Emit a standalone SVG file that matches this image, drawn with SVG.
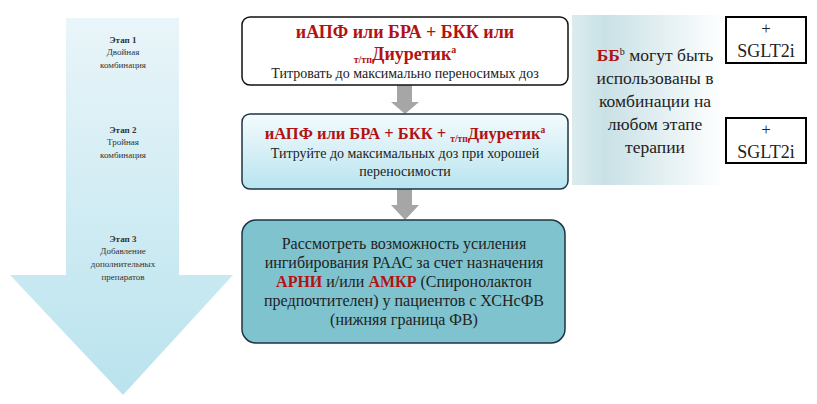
<svg xmlns="http://www.w3.org/2000/svg" width="817" height="404" viewBox="0 0 817 404">
<defs>
<linearGradient id="bigArrow" x1="0" y1="0" x2="0" y2="1">
<stop offset="0" stop-color="#e9f5f9"/>
<stop offset="1" stop-color="#b9e3ee"/>
</linearGradient>
<linearGradient id="box2" x1="0" y1="0" x2="0" y2="1">
<stop offset="0" stop-color="#f4fbfd"/>
<stop offset="1" stop-color="#b8e4ef"/>
</linearGradient>
<linearGradient id="panel" x1="0" y1="0" x2="1" y2="0">
<stop offset="0" stop-color="#dcecee"/>
<stop offset="0.22" stop-color="#c9e1e6"/>
<stop offset="1" stop-color="#ffffff"/>
</linearGradient>
</defs>
<rect width="817" height="404" fill="#ffffff"/>

<g id="stage-arrow">
<path d="M66,18 H179 V275 H233 L123,395 L10,275 H66 Z" fill="url(#bigArrow)"/>
<g font-size="9" fill="#333" text-anchor="middle">
<text style="font-family:'Liberation Serif',serif" x="123" y="43" font-weight="bold">Этап 1</text>
<text style="font-family:'Liberation Serif',serif" x="123" y="55">Двойная</text>
<text style="font-family:'Liberation Serif',serif" x="123" y="68">комбинация</text>
<text style="font-family:'Liberation Serif',serif" x="123" y="133" font-weight="bold">Этап 2</text>
<text style="font-family:'Liberation Serif',serif" x="123" y="145">Тройная</text>
<text style="font-family:'Liberation Serif',serif" x="123" y="158">комбинация</text>
<text style="font-family:'Liberation Serif',serif" x="123" y="242" font-weight="bold">Этап 3</text>
<text style="font-family:'Liberation Serif',serif" x="123" y="254">Добавление</text>
<text style="font-family:'Liberation Serif',serif" x="123" y="267">дополнительных</text>
<text style="font-family:'Liberation Serif',serif" x="123" y="280">препаратов</text>
</g>
</g>

<g id="connectors" fill="#a6a6a6">
<path d="M397,85 H412 V102 H419 L405,114 L391,102 H397 Z"/>
<path d="M397,189 H412 V205 H419 L405,220 L391,205 H397 Z"/>
</g>

<g id="box1">
<rect x="242" y="17" width="326" height="68" rx="8" fill="#fff" stroke="#111" stroke-width="1.5"/>
<text style="font-family:'Liberation Serif',serif" fill="#b31212" font-weight="bold" text-anchor="middle" x="405" y="38" font-size="18">иАПФ или БРА + БКК или</text>
<text style="font-family:'Liberation Serif',serif" fill="#b31212" font-weight="bold" text-anchor="middle" x="405" y="60"><tspan font-size="10" dy="3">т/тп</tspan><tspan font-size="18" dy="-3">Диуретик</tspan><tspan font-size="10" dy="-7">a</tspan></text>
<text style="font-family:'Liberation Serif',serif" fill="#222" text-anchor="middle" x="405" y="78" font-size="14">Титровать до максимально переносимых доз</text>
</g>

<g id="box2">
<rect x="242" y="114" width="326" height="75" rx="8" fill="url(#box2)" stroke="#1e3444" stroke-width="1.5"/>
<text style="font-family:'Liberation Serif',serif" fill="#b31212" font-weight="bold" text-anchor="middle" x="405" y="139" font-size="16.5">иАПФ или БРА + БКК + <tspan font-size="9.5" dy="3">т/тп</tspan><tspan dy="-3">Диуретик</tspan><tspan font-size="9.5" dy="-6">a</tspan></text>
<text style="font-family:'Liberation Serif',serif" fill="#222" text-anchor="middle" x="405" y="158" font-size="14">Титруйте до максимальных доз при хорошей</text>
<text style="font-family:'Liberation Serif',serif" fill="#222" text-anchor="middle" x="405" y="176" font-size="14">переносимости</text>
</g>

<g id="box3">
<rect x="242" y="220" width="323" height="123" rx="14" fill="#7fc3cf" stroke="#1e3444" stroke-width="1.5"/>
<g fill="#222" text-anchor="middle" font-size="16">
<text style="font-family:'Liberation Serif',serif" x="404" y="249">Рассмотреть возможность усиления</text>
<text style="font-family:'Liberation Serif',serif" x="404" y="268">ингибирования РААС за счет назначения</text>
<text style="font-family:'Liberation Serif',serif" x="404" y="287"><tspan fill="#b31212" font-weight="bold">АРНИ</tspan> и/или <tspan fill="#b31212" font-weight="bold">АМКР</tspan> (Спиронолактон</text>
<text style="font-family:'Liberation Serif',serif" x="404" y="306">предпочтителен) у пациентов с ХСНсФВ</text>
<text style="font-family:'Liberation Serif',serif" x="404" y="325">(нижняя граница ФВ)</text>
</g>
</g>

<g id="bb-panel">
<rect x="572" y="15" width="152" height="170" fill="url(#panel)"/>
<g fill="#222" text-anchor="middle" font-size="17.5">
<text style="font-family:'Liberation Serif',serif" x="655" y="61"><tspan fill="#b31212" font-weight="bold">ББ</tspan><tspan font-size="10" dy="-6">b</tspan><tspan dy="6"> могут быть</tspan></text>
<text style="font-family:'Liberation Serif',serif" x="655" y="84">использованы в</text>
<text style="font-family:'Liberation Serif',serif" x="655" y="107">комбинации на</text>
<text style="font-family:'Liberation Serif',serif" x="655" y="130">любом этапе</text>
<text style="font-family:'Liberation Serif',serif" x="655" y="153">терапии</text>
</g>
</g>

<g id="sglt2-1">
<rect x="726" y="17" width="80" height="46" fill="#fff" stroke="#000" stroke-width="2"/>
<text style="font-family:'Liberation Serif',serif" fill="#222" text-anchor="middle" x="766" y="34" font-size="17">+</text>
<text style="font-family:'Liberation Serif',serif" fill="#222" text-anchor="middle" x="766" y="57" font-size="18">SGLT2i</text>
</g>

<g id="sglt2-2">
<rect x="726" y="118" width="80" height="45" fill="#fff" stroke="#000" stroke-width="2"/>
<text style="font-family:'Liberation Serif',serif" fill="#222" text-anchor="middle" x="766" y="135" font-size="17">+</text>
<text style="font-family:'Liberation Serif',serif" fill="#222" text-anchor="middle" x="766" y="158" font-size="18">SGLT2i</text>
</g>
</svg>
